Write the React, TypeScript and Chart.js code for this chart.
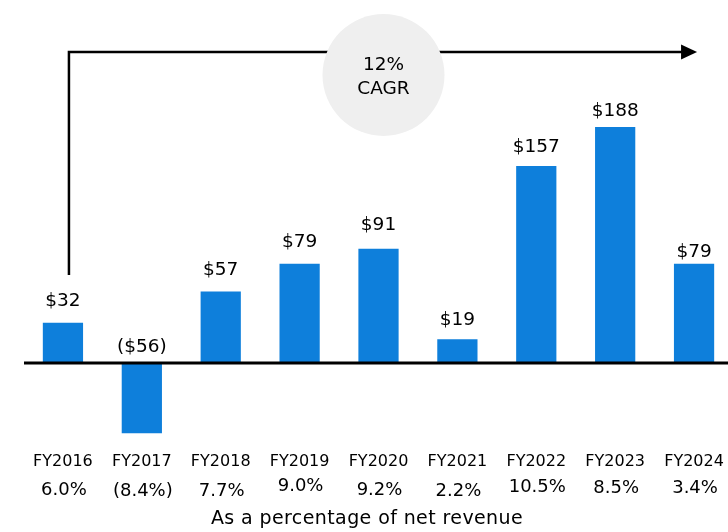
import React, { useEffect, useRef } from "react";
import { Chart, registerables } from "chart.js";

Chart.register(...registerables);

const categories = ["FY2016", "FY2017", "FY2018", "FY2019", "FY2020", "FY2021", "FY2022", "FY2023", "FY2024"];
const values = [32, -56, 57, 79, 91, 19, 157, 188, 79];
const valueLabels = ["$32", "($56)", "$57", "$79", "$91", "$19", "$157", "$188", "$79"];
const percentLabels = ["6.0%", "(8.4%)", "7.7%", "9.0%", "9.2%", "2.2%", "10.5%", "8.5%", "3.4%"];
const cagrLines = ["12%", "CAGR"];
const footnote = "As a percentage of net revenue";

// label placement (style): gap between value label centre and bar top, and percent-row nudges
const valueLabelGap = [22, 16, 21, 22, 24, 19, 19, 16, 12];
const percentNudge = [0, 1, 1, -4, 0, 1, -3, -2, -2];

const BAR_COLOR = "#0e7fdb";
const FONT = "'DejaVu Sans', sans-serif";

const overlayPlugin = {
  id: "overlay",
  afterDatasetsDraw(chart: any) {
    const ctx = chart.ctx;
    const x = chart.scales.x;
    const y = chart.scales.y;
    const zeroY = y.getPixelForValue(0);
    ctx.save();

    // zero line
    ctx.strokeStyle = "#000";
    ctx.lineWidth = 3;
    ctx.beginPath();
    ctx.moveTo(24, zeroY);
    ctx.lineTo(chart.width, zeroY);
    ctx.stroke();

    // value labels
    ctx.fillStyle = "#000";
    ctx.font = `18.5px ${FONT}`;
    ctx.textAlign = "center";
    ctx.textBaseline = "middle";
    values.forEach((v, i) => {
      const cx = x.getPixelForValue(i);
      const top = y.getPixelForValue(Math.max(v, 0));
      ctx.fillText(valueLabels[i], cx, top - valueLabelGap[i]);
    });

    // category labels & percentages
    categories.forEach((c, i) => {
      const cx = x.getPixelForValue(i);
      ctx.font = `16px ${FONT}`;
      ctx.fillText(c, cx, 462);
      ctx.font = `18px ${FONT}`;
      ctx.fillText(percentLabels[i], cx + 1, 490 + percentNudge[i]);
    });
    ctx.font = `19px ${FONT}`;
    (ctx as any).letterSpacing = "0.4px";
    ctx.fillText(footnote, 367, 519);
    (ctx as any).letterSpacing = "0px";

    // CAGR arrow
    const ax = x.getPixelForValue(0) + 6;
    const ay = 52;
    const tip = x.getPixelForValue(8) + 3;
    ctx.strokeStyle = "#000";
    ctx.lineWidth = 2.5;
    ctx.beginPath();
    ctx.moveTo(ax, 275);
    ctx.lineTo(ax, ay);
    ctx.lineTo(tip - 14, ay);
    ctx.stroke();
    ctx.fillStyle = "#000";
    ctx.beginPath();
    ctx.moveTo(tip, ay);
    ctx.lineTo(tip - 16, ay - 7.5);
    ctx.lineTo(tip - 16, ay + 7.5);
    ctx.closePath();
    ctx.fill();

    // CAGR circle
    const ccx = x.getPixelForValue(4) + 5;
    const ccy = 75;
    ctx.fillStyle = "#efefef";
    ctx.beginPath();
    ctx.arc(ccx, ccy, 61, 0, Math.PI * 2);
    ctx.fill();
    ctx.fillStyle = "#000";
    ctx.font = `18.5px ${FONT}`;
    ctx.fillText(cagrLines[0], ccx, ccy - 10);
    ctx.fillText(cagrLines[1], ccx, ccy + 14);

    ctx.restore();
  },
};

export default function App() {
  const ref = useRef<HTMLCanvasElement>(null);
  useEffect(() => {
    if (!ref.current) return;
    const chart = new Chart(ref.current, {
      type: "bar",
      data: {
        labels: categories,
        datasets: [
          {
            data: values,
            backgroundColor: BAR_COLOR,
            borderWidth: 0,
            barPercentage: 0.51,
            categoryPercentage: 1,
          },
        ],
      },
      options: {
        animation: false,
        responsive: false,
        maintainAspectRatio: false,
        layout: { padding: { left: 23.5, right: 11.5, top: 20, bottom: 92 } },
        plugins: { legend: { display: false }, tooltip: { enabled: false } },
        scales: {
          x: { display: false },
          y: { display: false, min: -61.35, max: 273.3 },
        },
      },
      plugins: [overlayPlugin],
    });
    return () => chart.destroy();
  }, []);
  return (
    <div style={{ position: "fixed", left: 0, top: 0, width: 728, height: 532, overflow: "hidden", background: "#fff" }}>
      <canvas ref={ref} width={745} height={532} style={{ width: 745, height: 532, display: "block" }} />
    </div>
  );
}
